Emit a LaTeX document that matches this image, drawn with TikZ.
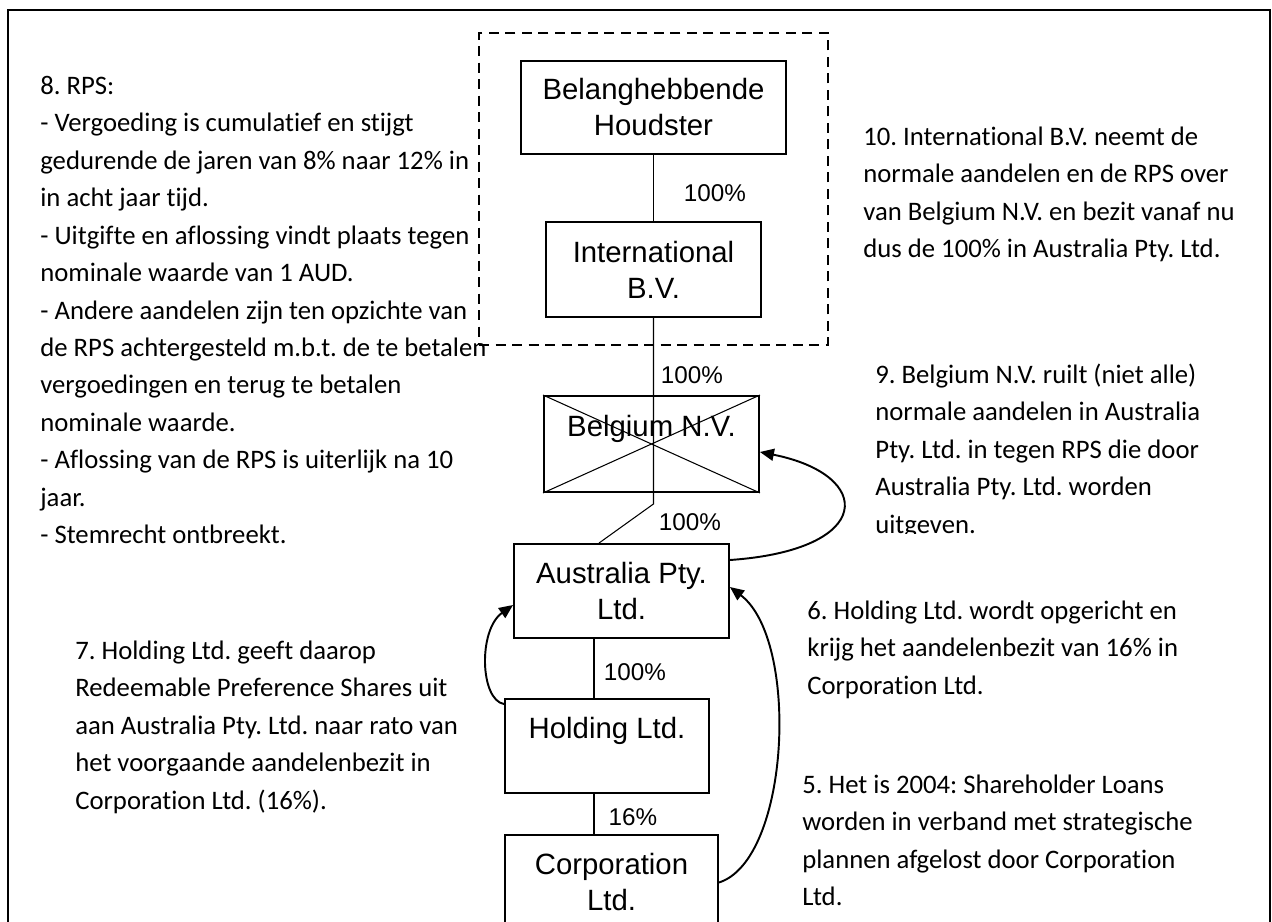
\documentclass[tikz,border=0pt]{standalone}
\usepackage{fontspec}
\newfontfamily\arialfont{Liberation Sans}
\newfontfamily\calibrifont[Ligatures=NoCommon]{Carlito}
\usetikzlibrary{arrows.meta, calc, fit}
\tikzset{
  doos/.style={
    draw, line width=1.1pt, align=center, inner sep=2pt,
    font=\arialfont\fontsize{16.7pt}{20.5pt}\selectfont
  },
  notitie/.style={
    anchor=north west, align=left, inner sep=0pt,
    font=\calibrifont\fontsize{15.2pt}{21.3pt}\selectfont
  },
  pct/.style={inner sep=0pt, font=\arialfont\fontsize{13.8pt}{16pt}\selectfont},
}
\frenchspacing

\begin{document}
\begin{tikzpicture}[
    x=0.02cm, y=-0.02cm,
    lijn/.style={
        line width=0.6pt
    },
    pijl/.style={
        -{Triangle[length=0.28cm, width=0.24cm]},
        line width=1.1pt
    },
    groep/.style={
        draw,
        line width=1.1pt,
        dash pattern=on 0.2cm off 0.13cm,
        inner xsep=0.82cm,
        inner ysep=0.54cm
    }
]
\useasboundingbox (0,0) rectangle (1272,922);
\clip (0,0) rectangle (1272,922);

\draw[line width=1.5pt] (8,10) rectangle (1270,970);

% structuur
\node[doos, minimum width=5.3cm, minimum height=1.86cm] (belang) at (653.5,107.5)
{Belanghebbende\\ Houdster};

\node[doos, minimum width=4.3cm, minimum height=1.9cm] (intl) at (653.5,269.5)
{International\\ B.V.};

\node[groep, fit=(belang)(intl)] (top) {};

\node[doos, minimum width=4.3cm, minimum height=1.92cm] (belg) at (651.5,444)
{Belgium N.V.\\ \mbox{}};
\draw[lijn] (belg.north west) -- (belg.south east);
\draw[lijn] (belg.south west) -- (belg.north east);

\node[doos, minimum width=4.3cm, minimum height=1.88cm] (aus) at (621.5,591)
{Australia Pty.\\ Ltd.};

\node[doos, minimum width=4.08cm, minimum height=1.88cm] (hold) at (607,746)
{Holding Ltd.\\ \mbox{}};

\node[doos, minimum width=4.26cm, minimum height=1.9cm] (corp) at (611.5,882.5)
{Corporation\\ Ltd.};

\draw[lijn] (belang.south) -- (intl.north);
\draw[lijn] (intl.south) -- ++(0,186) -- ([xshift=-0.45cm]aus.north);
\draw[lijn] ([xshift=-0.55cm]aus.south) -- ([xshift=-0.55cm]aus.south |- hold.north);
\draw[lijn] ([xshift=-0.26cm]hold.south) -- ([xshift=-0.26cm]hold.south |- corp.north);

\node[pct] (p1) at (715,193) {100\%};
\node[pct] (p2) at (692,375) {100\%};
\node[pct] (p3) at (690,522) {100\%};
\node[pct] (p4) at (635,672) {100\%};
\node[pct] (p5) at (633,817) {16\%};

% stappen
\draw[pijl] ([yshift=0.62cm]aus.east) .. controls (875,550) and (875,475) .. ([yshift=-0.16cm]belg.east);
\draw[pijl] (corp.east) .. controls (790,860) and (800,640) .. ([yshift=0.08cm]aus.east);
\draw[pijl] ([yshift=-0.12cm]hold.north west) .. controls (480,700) and (478,630) .. ([yshift=-0.28cm]aus.west);

% toelichting
\node[notitie] (rps) at (40,68)
{\strut 8. RPS:\\
- Vergoeding is cumulatief en stijgt\\
gedurende de jaren van 8\% naar 12\% in\\
in acht jaar tijd.\\
- Uitgifte en aflossing vindt plaats tegen\\
nominale waarde van 1 AUD.\\
- Andere aandelen zijn ten opzichte van\\
de RPS achtergesteld m.b.t. de te betalen\\
vergoedingen en terug te betalen\\
nominale waarde.\\
- Aflossing van de RPS is uiterlijk na 10\\
jaar.\\
- Stemrecht ontbreekt.};

\node[notitie] (stap10) at (863,119)
{\strut 10. International B.V. neemt de\\
normale aandelen en de RPS over\\
van Belgium N.V. en bezit vanaf nu\\
dus de 100\% in Australia Pty. Ltd.};

\begin{scope}
\clip (850,340) rectangle (1265,533);
\node[notitie] (stap9) at (875,357)
{\strut 9. Belgium N.V. ruilt (niet alle)\\
normale aandelen in Australia\\
Pty. Ltd. in tegen RPS die door\\
Australia Pty. Ltd. worden\\
uitgeven.};
\end{scope}

\node[notitie] (stap7) at (75,633)
{\strut 7. Holding Ltd. geeft daarop\\
Redeemable Preference Shares uit\\
aan Australia Pty. Ltd. naar rato van\\
het voorgaande aandelenbezit in\\
Corporation Ltd. (16\%).};

\node[notitie] (stap6) at (807,593)
{\strut 6. Holding Ltd. wordt opgericht en\\
krijg het aandelenbezit van 16\% in\\
Corporation Ltd.};

\node[notitie] (stap5) at (802,767)
{\strut 5. Het is 2004: Shareholder Loans\\
worden in verband met strategische\\
plannen afgelost door Corporation\\
Ltd.};

\end{tikzpicture}
\end{document}
